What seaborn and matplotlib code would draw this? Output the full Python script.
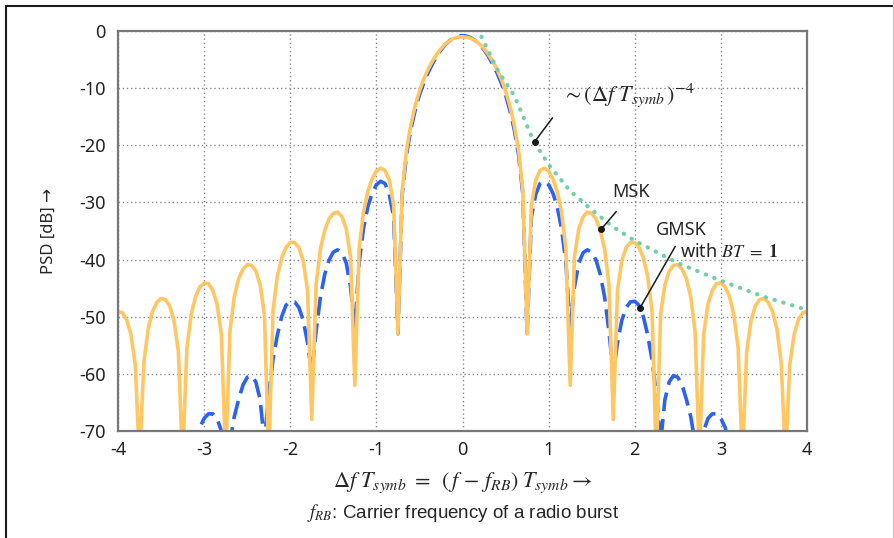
import numpy as np
import pandas as pd
import seaborn as sns
import matplotlib.pyplot as plt
from matplotlib.lines import Line2D

# one-sided PSD values (dB); the spectra are symmetric about 0
msk_f = np.round(np.arange(0, 4.0001, 0.05), 2)
msk_db = [-1.0, -1.1, -1.3, -1.7, -2.3, -3.1, -4.1, -5.3, -6.7, -8.4,
          -10.5, -13.1, -16.4, -20.8, -27.9, -53.0, -30.5, -26.1, -24.4, -24.0,
          -24.5, -25.9, -28.1, -31.7, -38.1, -62.0, -39.5, -34.6, -32.5, -31.7,
          -31.9, -32.9, -34.9, -38.2, -44.3, -68.0, -45.3, -40.2, -37.9, -37.0,
          -37.0, -37.9, -39.7, -42.9, -48.9, -75.0, -49.6, -44.4, -42.0, -41.0,
          -40.9, -41.7, -43.4, -46.5, -52.5, -75.0, -53.1, -47.8, -45.4, -44.2,
          -44.1, -44.8, -46.5, -49.6, -55.4, -75.0, -56.0, -50.7, -48.1, -47.0,
          -46.8, -47.5, -49.1, -52.1, -58.0, -75.0, -58.4, -53.1, -50.5, -49.3,
          -49.1]

gmsk_f = np.round(np.arange(0, 3.1501, 0.05), 2)
gmsk_db = [-0.8, -0.9, -1.2, -1.7, -2.4, -3.3, -4.4, -5.8, -7.3, -9.1,
           -11.2, -13.9, -17.2, -21.6, -28.5, -53.0, -32.5, -28.6, -26.7, -26.3,
           -26.9, -28.4, -30.8, -34.6, -40.5, -52.0, -44.8, -40.6, -38.8, -38.3,
           -38.7, -40.1, -42.6, -46.6, -52.5, -60.0, -54.5, -50.6, -48.4, -47.4,
           -47.3, -48.0, -50.0, -53.2, -57.5, -63.5, -72.0, -64.5, -61.4, -60.3,
           -60.6, -62.0, -64.5, -67.5, -72.0, -75.0, -70.0, -67.8, -67.0, -67.0,
           -67.8, -69.4, -72.5, -78.0]

# (Δf T)^-4 envelope, right side only
env_f = [0.22, 0.3, 0.4, 0.5, 0.6, 0.7, 0.8, 0.9, 1.0, 1.25, 1.5, 1.75,
         2.0, 2.5, 3.0, 3.5, 4.0]
env_db = [-1.0, -3.5, -6.6, -9.0, -11.3, -14.8, -18.4, -21.0, -23.4, -28.0,
          -31.3, -34.3, -36.7, -40.6, -43.7, -46.5, -48.8]

x_ticks = [-4, -3, -2, -1, 0, 1, 2, 3, 4]
y_ticks = [0, -10, -20, -30, -40, -50, -60, -70]


def mirror(f, v):
    f = np.asarray(f, dtype=float)
    v = np.asarray(v, dtype=float)
    return np.concatenate([-f[:0:-1], f]), np.concatenate([v[:0:-1], v])


mx, my = mirror(msk_f, msk_db)
gx, gy = mirror(gmsk_f, gmsk_db)
msk = pd.DataFrame({"f": mx, "psd": my})
gmsk = pd.DataFrame({"f": gx, "psd": gy})
env = pd.DataFrame({"f": env_f, "psd": env_db})

sns.set_theme(style="white")
plt.rcParams["font.family"] = ["Noto Sans", "DejaVu Sans"]
plt.rcParams["mathtext.fontset"] = "stix"

fig = plt.figure(figsize=(8.94, 5.38), dpi=100)
ax = fig.add_axes([0.132, 0.1989, 0.7707, 0.7435])

sns.lineplot(data=gmsk, x="f", y="psd", ax=ax, color="#2B62F2", linewidth=2.6,
             linestyle=(0, (5.2, 2.2)), estimator=None, sort=False)
sns.lineplot(data=msk, x="f", y="psd", ax=ax, color="#FFC763", linewidth=2.6,
             estimator=None, sort=False)
sns.lineplot(data=env, x="f", y="psd", ax=ax, color="#72CFA8", linewidth=3.0,
             linestyle=(0, (0.1, 2.1)), dash_capstyle="round",
             estimator=None, sort=False)

ax.set_xlim(-4, 4)
ax.set_ylim(-70, 0)
ax.set_xticks(x_ticks)
ax.set_yticks(y_ticks)
ax.set_xticklabels([str(t) for t in x_ticks])
ax.set_yticklabels([str(t) for t in y_ticks])
ax.tick_params(length=0, labelsize=13, colors="#222222")
ax.tick_params(axis="y", pad=9)
ax.tick_params(axis="x", pad=7)
ax.grid(True, linestyle=(0, (1, 2)), color="#8a8a8a", linewidth=1.0)
ax.set_axisbelow(True)
for s in ax.spines.values():
    s.set_color("#777777")
    s.set_linewidth(1.6)
ax.set_xlabel("")
ax.set_ylabel("PSD [dB] →", fontsize=12, labelpad=16)

# annotations
ax.text(1.15, -11.2, r"$\sim(\Delta f\ T_{symb}\,)^{-4}$", fontsize=16,
        va="center", ha="left")
ax.plot([1.045, 0.836], [-15.2, -19.4], color="k", lw=1.1)
ax.plot([0.836], [-19.4], "o", color="k", ms=4)

ax.text(1.96, -28.1, "MSK", fontsize=13, ha="center", va="center")
ax.plot([1.785, 1.61], [-31.6, -34.7], color="k", lw=1.1)
ax.plot([1.61], [-34.7], "o", color="k", ms=4)

ax.text(2.25, -34.8, "GMSK", fontsize=13, ha="left", va="center")
ax.text(2.52, -38.6, r"with $BT\ =\ \mathbf{1}$", fontsize=13, ha="left", va="center")
ax.plot([2.47, 2.06], [-37.7, -48.5], color="k", lw=1.1)
ax.plot([2.06], [-48.5], "o", color="k", ms=4)

fig.text(463 / 894, 1 - 483 / 538,
         r"$\Delta f\ T_{symb}\ =\ \,(\,f\,-\,f_{RB})\;T_{symb} \rightarrow$",
         fontsize=16, ha="center", va="center")
fig.text(463 / 894, 1 - 513 / 538, r"$f_{RB}$: Carrier frequency of a radio burst",
         fontsize=13.5, ha="center", va="center",
         family=["Liberation Sans", "DejaVu Sans"])

# screenshot frame
fig.add_artist(Line2D([5.5 / 894, 5.5 / 894], [0, 1 - 5.5 / 538], color="k", lw=1.5))
fig.add_artist(Line2D([5.5 / 894, 1], [1 - 5.5 / 538, 1 - 5.5 / 538], color="k", lw=1.5))
fig.add_artist(Line2D([892.5 / 894, 892.5 / 894], [0, 1], color="#cccccc", lw=1.0))

fig.savefig("out.png", dpi=100)
